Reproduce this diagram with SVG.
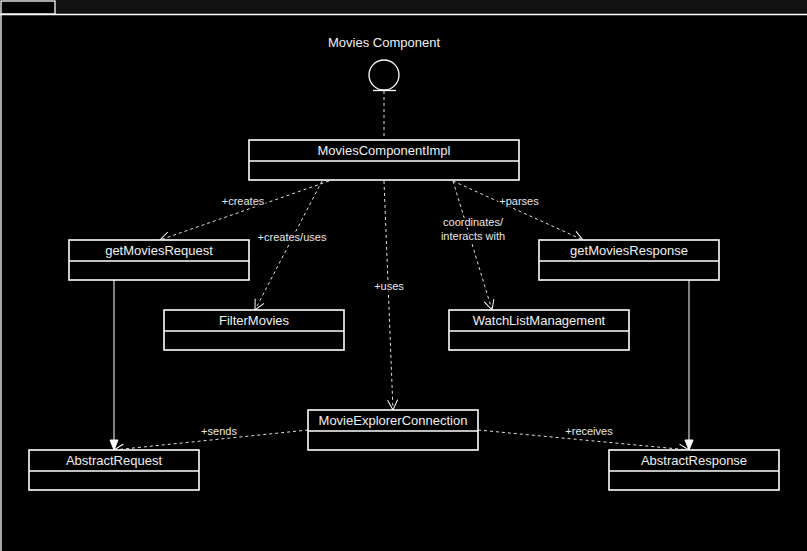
<svg xmlns="http://www.w3.org/2000/svg" width="807" height="551" viewBox="0 0 807 551">
<defs>
<marker id="open" viewBox="0 0 12 12" refX="11" refY="6" markerWidth="12" markerHeight="12" markerUnits="userSpaceOnUse" orient="auto">
<path d="M1,1 L11,6 L1,11" fill="none" stroke="#ffffff" stroke-width="1"/>
</marker>
<marker id="tri" viewBox="0 0 12 10" refX="11" refY="5" markerWidth="12" markerHeight="10" markerUnits="userSpaceOnUse" orient="auto">
<path d="M1,1 L11,5 L1,9 Z" fill="#ffffff" stroke="#ffffff" stroke-width="1"/>
</marker>
</defs>
<style>
.box{fill:#000;stroke:#fff;stroke-width:1.6}
.div{stroke:#fff;stroke-width:1.6}
.name{font-family:"Liberation Sans",Arial,sans-serif;font-size:13px;fill:#f0f0f0;text-anchor:middle}
.lbl{font-family:"Liberation Sans",Arial,sans-serif;font-size:11px;fill:#e8e8e8;text-anchor:middle;stroke:#000;stroke-width:3px;paint-order:stroke}
.dash{fill:none;stroke:#e0e0e0;stroke-width:1;stroke-dasharray:3,3;marker-end:url(#open)}
.solid{fill:none;stroke:#fff;stroke-width:1;marker-end:url(#tri)}
</style>
<rect x="0" y="0" width="807" height="551" fill="#000"/>
<g id="frame">
<rect x="55" y="0" width="752" height="14" fill="#111"/>
<rect x="1" y="1" width="54" height="13" fill="#000" stroke="#fff" stroke-width="1.3"/>
<line x1="0" y1="14.5" x2="807" y2="14.5" stroke="#fff" stroke-width="1.3"/>
<line x1="1" y1="14" x2="1" y2="551" stroke="#fff" stroke-width="1.3"/>
</g>
<g id="connectors">
<line x1="384" y1="91" x2="384" y2="140" stroke="#e0e0e0" stroke-width="1" stroke-dasharray="3,3"/>
<line class="dash" x1="329" y1="181" x2="160" y2="240"/>
<line class="dash" x1="322" y1="181" x2="255" y2="310"/>
<line class="dash" x1="384" y1="181" x2="393" y2="410"/>
<line class="dash" x1="453" y1="181" x2="492" y2="310"/>
<line class="dash" x1="453" y1="181" x2="583" y2="240"/>
<line class="solid" x1="114" y1="280" x2="114" y2="450"/>
<line class="solid" x1="689" y1="280" x2="689" y2="450"/>
<line class="dash" x1="308" y1="430" x2="114" y2="450"/>
<line class="dash" x1="478" y1="430" x2="689" y2="450"/>
<text class="lbl" x="243" y="205">+creates</text>
<text class="lbl" x="292" y="241">+creates/uses</text>
<text class="lbl" x="389" y="290">+uses</text>
<text class="lbl" x="473" y="226">coordinates/</text>
<text class="lbl" x="473" y="240">interacts with</text>
<text class="lbl" x="519" y="205">+parses</text>
<text class="lbl" x="219" y="435">+sends</text>
<text class="lbl" x="589" y="435">+receives</text>
</g>
<g id="MoviesComponent">
<text class="name" x="384" y="47">Movies Component</text>
<circle cx="384" cy="75" r="15" fill="#000" stroke="#fff" stroke-width="1.3"/>
<line x1="373" y1="90.5" x2="396" y2="90.5" stroke="#fff" stroke-width="1.3"/>
</g>
<g id="MoviesComponentImpl">
<rect class="box" x="249" y="140" width="270" height="40"/>
<line class="div" x1="249" y1="161" x2="519" y2="161"/>
<text class="name" x="384" y="155">MoviesComponentImpl</text>
</g>
<g id="getMoviesRequest">
<rect class="box" x="69" y="240" width="180" height="40"/>
<line class="div" x1="69" y1="261" x2="249" y2="261"/>
<text class="name" x="159" y="255">getMoviesRequest</text>
</g>
<g id="getMoviesResponse">
<rect class="box" x="539" y="240" width="180" height="40"/>
<line class="div" x1="539" y1="261" x2="719" y2="261"/>
<text class="name" x="629" y="255">getMoviesResponse</text>
</g>
<g id="FilterMovies">
<rect class="box" x="164" y="310" width="180" height="40"/>
<line class="div" x1="164" y1="331" x2="344" y2="331"/>
<text class="name" x="254" y="325">FilterMovies</text>
</g>
<g id="WatchListManagement">
<rect class="box" x="449" y="310" width="180" height="40"/>
<line class="div" x1="449" y1="331" x2="629" y2="331"/>
<text class="name" x="539" y="325">WatchListManagement</text>
</g>
<g id="MovieExplorerConnection">
<rect class="box" x="308" y="410" width="170" height="40"/>
<line class="div" x1="308" y1="431" x2="478" y2="431"/>
<text class="name" x="393" y="425">MovieExplorerConnection</text>
</g>
<g id="AbstractRequest">
<rect class="box" x="29" y="450" width="170" height="40"/>
<line class="div" x1="29" y1="471" x2="199" y2="471"/>
<text class="name" x="114" y="465">AbstractRequest</text>
</g>
<g id="AbstractResponse">
<rect class="box" x="609" y="450" width="170" height="40"/>
<line class="div" x1="609" y1="471" x2="779" y2="471"/>
<text class="name" x="694" y="465">AbstractResponse</text>
</g>
</svg>
